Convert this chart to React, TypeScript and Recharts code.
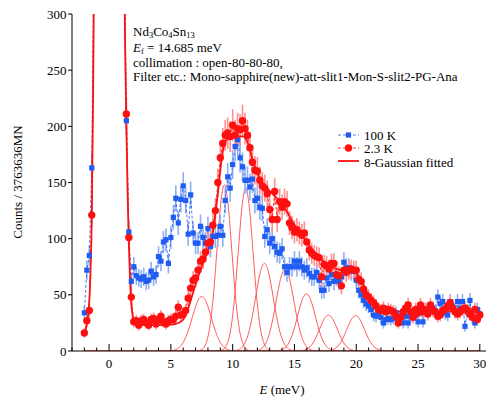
import React from 'react';
import { ComposedChart, Line, XAxis, YAxis, ErrorBar } from 'recharts';

// ---------- data ----------
const E_START = -2.0; // first energy transfer of the scan (meV)
const E_STEP = 0.2; // scan step (meV)

// 100 K counts, E = -2.0 ... 30.0 meV
const blueCounts = [
  34, 72, 85, 163, 390, 900, 1700, 2700, 3600, 4100,
  4200, 3900, 3200, 2300, 1400, 750, 390, 205, 106, 62,
  75, 67, 65, 64, 66, 62, 63, 71, 66, 68,
  84, 80, 97, 99, 78, 101, 119, 136, 114, 135,
  147, 134, 104, 139, 105, 96, 96, 111, 101, 96,
  109, 93, 102, 102, 103, 111, 103, 134, 155, 145,
  166, 182, 188, 172, 164, 152, 152, 146, 153, 134,
  136, 128, 127, 102, 108, 96, 100, 93, 88, 87,
  91, 75, 70, 75, 75, 80, 75, 80, 75, 72,
  74, 69, 66, 66, 70, 63, 54, 54, 65, 60,
  68, 62, 66, 62, 66, 79, 74, 74, 71, 71,
  63, 54, 50, 45, 42, 40, 37, 32, 31, 34,
  30, 25, 28, 29, 28, 29, 34, 31, 31, 25,
  31, 25, 31, 32, 32, 26, 37, 26, 37, 35,
  37, 38, 36, 48, 42, 44, 34, 32, 44, 40,
  35, 44, 38, 44, 22, 35, 45, 30, 25, 37,
  33,
];

// 2.3 K counts, E = -2.0 ... 30.0 meV
const redCounts = [
  16, 27, 36, 121, 360, 850, 1600, 2600, 3500, 4000,
  4100, 3800, 3100, 2200, 1300, 700, 370, 211, 101, 48,
  26, 27, 23, 27, 28, 25, 23, 28, 29, 24,
  28, 31, 26, 24, 27, 28, 28, 31, 39, 32,
  33, 36, 47, 56, 63, 65, 72, 80, 82, 88,
  96, 97, 112, 125, 150, 172, 185, 192, 194, 191,
  201, 192, 198, 197, 205, 198, 192, 181, 168, 161,
  160, 152, 147, 145, 140, 126, 117, 142, 117, 133,
  128, 133, 131, 114, 110, 106, 108, 105, 103, 105,
  97, 90, 87, 85, 84, 83, 66, 77, 76, 73,
  78, 78, 68, 67, 58, 72, 70, 72, 73, 72,
  72, 64, 62, 55, 50, 48, 45, 43, 40, 37,
  36, 38, 35, 37, 36, 35, 31, 25, 30, 35,
  38, 41, 35, 30, 37, 34, 41, 35, 37, 33,
  41, 36, 35, 31, 32, 36, 37, 40, 43, 38,
  35, 33, 35, 37, 38, 36, 33, 30, 37, 28,
  32,
];

// total 8-Gaussian fit curve
const fitEnergy = [
  -2.0, -1.8, -1.6, -1.4, -1.3, -1.2, -1.0, -0.5, 0, 0.5,
  1.0, 1.2, 1.3, 1.4, 1.5, 1.6, 1.7, 1.8, 1.9, 2.0,
  2.2, 2.5, 3.0, 4.0, 5.0, 5.5, 6.0, 6.4, 6.8, 7.2,
  7.6, 8.0, 8.4, 8.8, 9.2, 9.6, 10.0, 10.4, 10.8, 11.2,
  11.6, 12.0, 12.4, 12.8, 13.2, 13.6, 14.0, 14.4, 14.8, 15.2,
  15.6, 16.0, 16.4, 16.8, 17.2, 17.6, 18.0, 18.4, 18.8, 19.2,
  19.6, 20.0, 20.4, 20.8, 21.2, 21.6, 22.0, 22.5, 23.0, 24.0,
  25.0, 26.0, 27.0, 28.0, 29.0, 30.0,
];
const fitCounts = [
  16, 24, 45, 120, 220, 360, 800, 3000, 4100, 3000,
  800, 370, 270, 200, 140, 95, 62, 42, 32, 27,
  24.5, 23.5, 23, 23, 23.5, 24.5, 28, 38, 52, 66,
  78, 90, 106, 140, 178, 189, 190, 191, 191, 186,
  171, 158, 150, 145, 140, 136, 130, 124, 116, 109,
  103, 97, 91, 86, 81, 78, 75, 73, 72, 71,
  71, 69, 63, 54, 46, 41, 38, 36, 35, 35,
  35, 35, 35, 35, 35, 35,
];

// individual Gaussian components: sampled at centre + offset
const gaussOffsets = [-2.4, -2.1, -1.8, -1.5, -1.2, -0.9, -0.6, -0.3, 0, 0.3, 0.6, 0.9, 1.2, 1.5, 1.8, 2.1, 2.4];
const gaussCenters = [7.5, 9.33, 11.05, 12.57, 14.24, 15.97, 17.75, 19.95];
const gauss1 = [0.4, 1.3, 3.4, 7.6, 14.8, 24.9, 36.1, 45.1, 48.5, 45.1, 36.1, 24.9, 14.8, 7.6, 3.4, 1.3, 0.4];
const gauss2 = [0, 0.3, 1.6, 6.5, 20.0, 48.1, 89.8, 130.6, 148, 130.6, 89.8, 48.1, 20.0, 6.5, 1.6, 0.3, 0];
const gauss3 = [0, 0.3, 1.6, 6.4, 19.6, 47.1, 87.9, 128.0, 145, 128.0, 87.9, 47.1, 19.6, 6.4, 1.6, 0.3, 0];
const gauss4 = [0.3, 1.1, 3.4, 8.9, 19.4, 35.7, 55.1, 71.5, 78, 71.5, 55.1, 35.7, 19.4, 8.9, 3.4, 1.1, 0.3];
const gauss5 = [0.3, 1.0, 3.2, 8.3, 18.2, 33.4, 51.6, 66.9, 73, 66.9, 51.6, 33.4, 18.2, 8.3, 3.2, 1.0, 0.3];
const gauss6 = [0.2, 0.7, 2.2, 5.8, 12.7, 23.4, 36.1, 46.8, 51, 46.8, 36.1, 23.4, 12.7, 5.8, 2.2, 0.7, 0.2];
const gauss7 = [0.1, 0.4, 1.4, 3.6, 8.0, 14.7, 22.6, 29.3, 32, 29.3, 22.6, 14.7, 8.0, 3.6, 1.4, 0.4, 0.1];
const gauss8 = [0.1, 0.4, 1.4, 3.6, 7.8, 14.4, 22.3, 28.9, 31.5, 28.9, 22.3, 14.4, 7.8, 3.6, 1.4, 0.4, 0.1];
const gaussComponents = [gauss1, gauss2, gauss3, gauss4, gauss5, gauss6, gauss7, gauss8];
const gaussRange = [-2.0, 30.0];

const xMajorTicks = [0, 5, 10, 15, 20, 25, 30];
const xMinorTicks = [-3, -2, -1, 0, 1, 2, 3, 4, 5, 6, 7, 8, 9, 10, 11, 12, 13, 14, 15, 16, 17, 18, 19, 20, 21, 22, 23, 24, 25, 26, 27, 28, 29, 30];
const yTicks = [0, 50, 100, 150, 200, 250, 300];

const seriesNames = ['100 K', '2.3 K', '8-Gaussian fitted'];

// ---------- styling ----------
const W = 486;
const H = 397;
const X_DOMAIN: [number, number] = [-3, 30.5];
const Y_DOMAIN: [number, number] = [0, 300];
const BLUE = '#1f5cf2';
const BLUE_ERR = '#8eaef4';
const RED = '#ff1010';
const RED_ERR = '#ff8f8f';
const GAUSS = '#ff5c5c';
const FONT = "'Liberation Serif', 'Times New Roman', serif";
const FS = 13;
const SUB_FS = 8.5;
const SUB_DY = 2;

// ---------- tables built from the arrays ----------
const energies = blueCounts.map((_, i) => Math.round((E_START + i * E_STEP) * 10) / 10);
const blueData = energies.map((e, i) => ({ e, y: blueCounts[i], err: Math.sqrt(blueCounts[i]) }));
const redData = energies.map((e, i) => ({ e, y: redCounts[i], err: Math.sqrt(redCounts[i]) }));
const fitData = fitEnergy.map((e, i) => ({ e, y: fitCounts[i] }));
const gaussData = gaussComponents.map((vals, k) => [
  { e: gaussRange[0], y: 0 },
  ...vals.map((y, i) => ({ e: Math.round((gaussCenters[k] + gaussOffsets[i]) * 100) / 100, y })),
  { e: gaussRange[1], y: 0 },
]);

// ---------- tick renderers ----------
const BottomTick = (props: any) => {
  const { x, y, payload } = props;
  const v = payload.value;
  const major = xMajorTicks.includes(v);
  return (
    <g>
      <line x1={x} x2={x} y1={y} y2={y - (major ? 7 : 3.5)} stroke="#000" strokeWidth={1} />
      {major && (
        <text x={x} y={y + 17} textAnchor="middle" fontFamily={FONT} fontSize={FS} fill="#000">
          {v}
        </text>
      )}
    </g>
  );
};

const TopTick = (props: any) => {
  const { x, y, payload } = props;
  const major = xMajorTicks.includes(payload.value);
  return <line x1={x} x2={x} y1={y} y2={y + (major ? 7 : 3.5)} stroke="#000" strokeWidth={1} />;
};

const LeftTick = (props: any) => {
  const { x, y, payload } = props;
  return (
    <g>
      <line x1={x - 4} x2={x} y1={y} y2={y} stroke="#000" strokeWidth={1} />
      <text x={x - 5.5} y={y + 4.5} textAnchor="end" fontFamily={FONT} fontSize={FS} fill="#000">
        {payload.value}
      </text>
    </g>
  );
};

const RightTick = (props: any) => {
  const { x, y } = props;
  return <line x1={x - 7} x2={x} y1={y} y2={y} stroke="#000" strokeWidth={1} />;
};

const SquareDot = (props: any) => {
  const { cx, cy, index } = props;
  if (cx == null || cy == null) return <g key={`s${index}`} />;
  return <rect key={`s${index}`} x={cx - 2.6} y={cy - 2.6} width={5.2} height={5.2} fill={BLUE} />;
};

const CircleDot = (props: any) => {
  const { cx, cy, index } = props;
  if (cx == null || cy == null) return <g key={`c${index}`} />;
  return <circle key={`c${index}`} cx={cx} cy={cy} r={3.7} fill={RED} />;
};

export default function App() {
  return (
    <div style={{ position: 'absolute', left: 0, top: 0, width: W, height: H, background: '#fff' }}>
      <ComposedChart width={W} height={H} margin={{ top: 14, right: 0, bottom: 0, left: 0 }}>
        <XAxis
          xAxisId="b"
          dataKey="e"
          type="number"
          domain={X_DOMAIN}
          allowDataOverflow
          ticks={xMinorTicks}
          interval={0}
          tickSize={0}
          tickMargin={0}
          tickLine={false}
          tick={BottomTick}
          axisLine={{ stroke: '#000', strokeWidth: 1 }}
          height={46}
          orientation="bottom"
        />
        <XAxis
          xAxisId="t"
          dataKey="e"
          type="number"
          domain={X_DOMAIN}
          allowDataOverflow
          ticks={xMinorTicks}
          interval={0}
          tickSize={0}
          tickMargin={0}
          tickLine={false}
          tick={TopTick}
          axisLine={{ stroke: '#000', strokeWidth: 1 }}
          height={0}
          orientation="top"
        />
        <YAxis
          yAxisId="l"
          type="number"
          domain={Y_DOMAIN}
          allowDataOverflow
          ticks={yTicks}
          interval={0}
          tickSize={0}
          tickMargin={0}
          tickLine={false}
          tick={LeftTick}
          axisLine={{ stroke: '#000', strokeWidth: 1 }}
          width={72}
          orientation="left"
        />
        <YAxis
          yAxisId="r"
          type="number"
          domain={Y_DOMAIN}
          allowDataOverflow
          ticks={yTicks}
          interval={0}
          tickSize={0}
          tickMargin={0}
          tickLine={false}
          tick={RightTick}
          axisLine={{ stroke: '#000', strokeWidth: 1 }}
          width={0}
          orientation="right"
        />

        {gaussData.map((d, k) => (
          <Line
            key={`g${k}`}
            xAxisId="b"
            yAxisId="l"
            data={d}
            dataKey="y"
            type="monotone"
            stroke={GAUSS}
            strokeWidth={1}
            dot={false}
            activeDot={false}
            isAnimationActive={false}
          />
        ))}

        <Line
          name={seriesNames[0]}
          xAxisId="b"
          yAxisId="l"
          data={blueData}
          dataKey="y"
          type="linear"
          stroke={BLUE}
          strokeWidth={0.8}
          strokeDasharray="3 2"
          dot={SquareDot}
          activeDot={false}
          isAnimationActive={false}
        >
          <ErrorBar dataKey="err" width={0} stroke={BLUE_ERR} strokeWidth={1.6} direction="y" />
        </Line>

        <Line
          name={seriesNames[1]}
          xAxisId="b"
          yAxisId="l"
          data={redData}
          dataKey="y"
          type="linear"
          stroke={RED}
          strokeWidth={0.8}
          strokeDasharray="3 2"
          dot={CircleDot}
          activeDot={false}
          isAnimationActive={false}
        >
          <ErrorBar dataKey="err" width={0} stroke={RED_ERR} strokeWidth={1.6} direction="y" />
        </Line>

        <Line
          name={seriesNames[2]}
          xAxisId="b"
          yAxisId="l"
          data={fitData}
          dataKey="y"
          type="monotone"
          stroke={RED}
          strokeWidth={1.8}
          dot={false}
          activeDot={false}
          isAnimationActive={false}
        />
      </ComposedChart>

      <svg
        width={W}
        height={H}
        style={{ position: 'absolute', left: 0, top: 0, pointerEvents: 'none' }}
        fontFamily={FONT}
        fontSize={FS}
      >
        {/* annotation */}
        <text x={133} y={36} fill="#000">
          Nd<tspan dy={SUB_DY} fontSize={SUB_FS}>3</tspan>
          <tspan dy={-SUB_DY}>Co</tspan>
          <tspan dy={SUB_DY} fontSize={SUB_FS}>4</tspan>
          <tspan dy={-SUB_DY}>Sn</tspan>
          <tspan dy={SUB_DY} fontSize={SUB_FS}>13</tspan>
        </text>
        <text x={133} y={51.5} fill="#000">
          <tspan fontStyle="italic">E</tspan>
          <tspan dy={SUB_DY} fontSize={SUB_FS}>f</tspan>
          <tspan dy={-SUB_DY}> = 14.685 meV</tspan>
        </text>
        <text x={133} y={67} fill="#000">collimation : open-80-80-80,</text>
        <text x={133} y={81} fill="#000">Filter etc.: Mono-sapphire(new)-att-slit1-Mon-S-slit2-PG-Ana</text>

        {/* legend */}
        <line x1={338} x2={359} y1={135} y2={135} stroke={BLUE} strokeWidth={0.8} strokeDasharray="3 2" />
        <rect x={348.5 - 2.6} y={135 - 2.6} width={5.2} height={5.2} fill={BLUE} />
        <text x={364} y={139.5} fill="#000">{seriesNames[0]}</text>
        <line x1={338} x2={359} y1={148} y2={148} stroke={RED} strokeWidth={0.8} strokeDasharray="3 2" />
        <circle cx={348.5} cy={148} r={3.7} fill={RED} />
        <text x={364} y={153} fill="#000">{seriesNames[1]}</text>
        <line x1={338} x2={359} y1={161} y2={161} stroke={RED} strokeWidth={1.8} />
        <text x={364} y={166.5} fill="#000">{seriesNames[2]}</text>

        {/* axis titles */}
        <text x={282} y={393.5} textAnchor="middle" fill="#000">
          <tspan fontStyle="italic">E</tspan> (meV)
        </text>
        <text x={22} y={182} textAnchor="middle" fill="#000" transform="rotate(-90 22 182)">
          Counts / 3763636MN
        </text>
      </svg>
    </div>
  );
}
